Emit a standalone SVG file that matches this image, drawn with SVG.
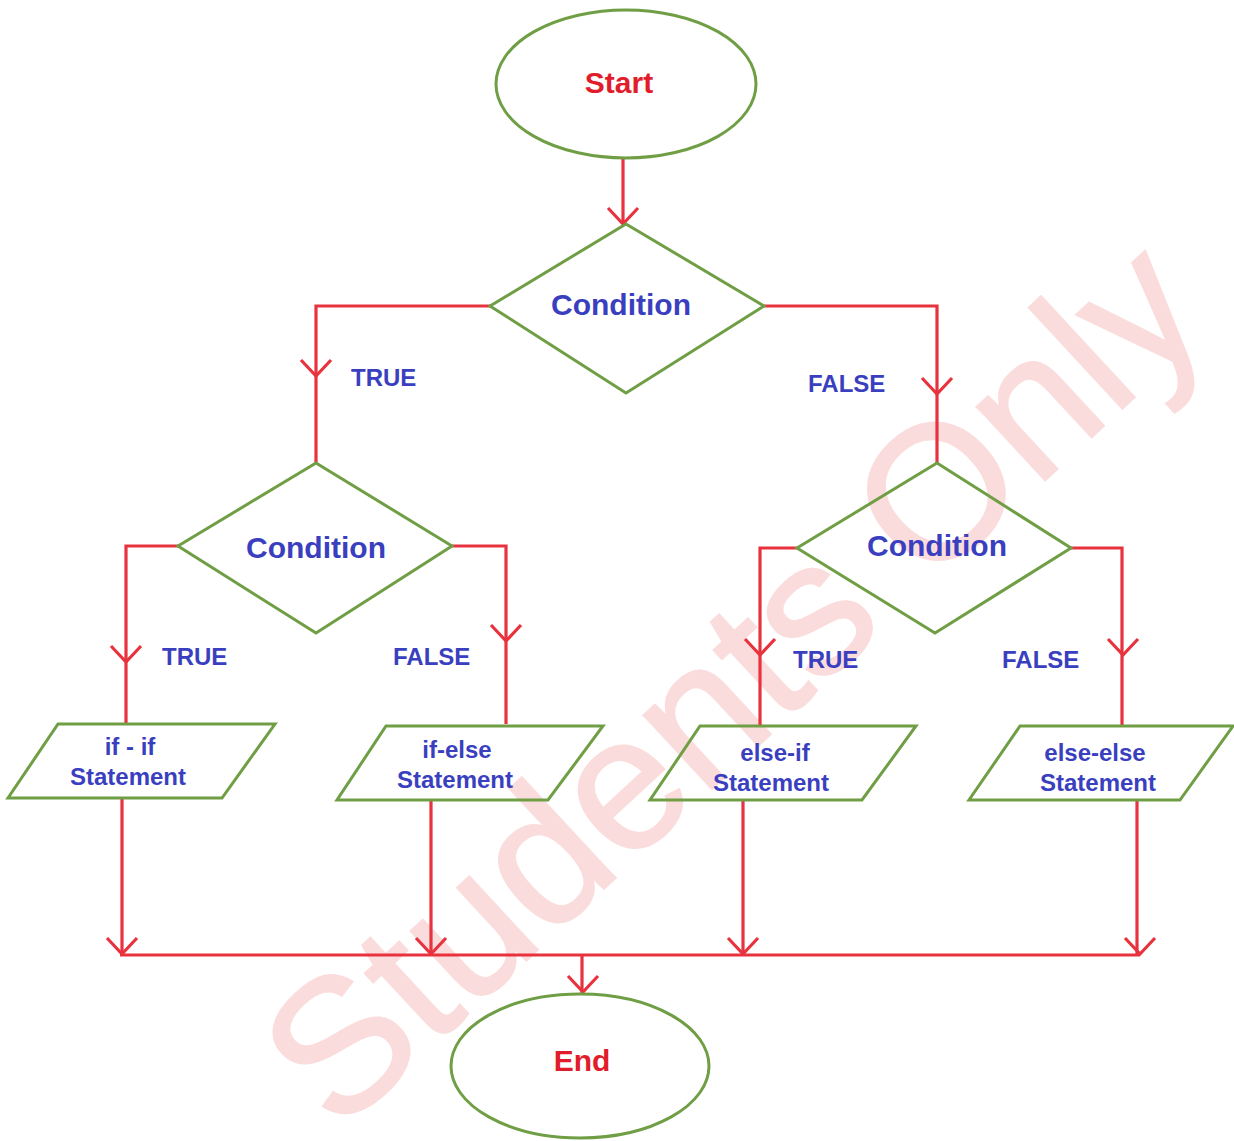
<svg xmlns="http://www.w3.org/2000/svg" xmlns:xlink="http://www.w3.org/1999/xlink" width="1234" height="1141" viewBox="0 0 1234 1141">
<style>
.shape{fill:none;stroke:#6f9e45;stroke-width:3}
.ln{fill:none;stroke:#e8323e;stroke-width:3.2;stroke-linejoin:miter}
.red{font-family:"Liberation Sans",Arial,sans-serif;font-weight:bold;font-size:30px;fill:#e21d2b;text-anchor:middle}
.cond{font-family:"Liberation Sans",Arial,sans-serif;font-weight:bold;font-size:30px;fill:#3a3fc0;text-anchor:middle}
.lbl{font-family:"Liberation Sans",Arial,sans-serif;font-weight:bold;font-size:24px;fill:#3a3fc0}
.st{font-family:"Liberation Sans",Arial,sans-serif;font-weight:bold;font-size:24px;fill:#3a3fc0;text-anchor:middle}
.wm{font-family:"Liberation Sans",Arial,sans-serif;font-size:190px;fill:#fbdcdc;stroke:#fbdcdc;stroke-width:2}
</style>
<defs>
<path id="v" d="M-15,-16 L0,0 L15,-16" class="ln"/>
</defs>
<rect width="1234" height="1141" fill="#ffffff"/>
<text class="wm" transform="translate(338,1135) rotate(-42.8)">Students Only</text>

<g id="connectors">
<path class="ln" d="M623,158 V224"/>
<use xlink:href="#v" x="623" y="224"/>
<path class="ln" d="M490,306 H316 V463"/>
<use xlink:href="#v" x="316" y="376"/>
<path class="ln" d="M764,306 H937 V463"/>
<use xlink:href="#v" x="937" y="394"/>
<path class="ln" d="M178,546 H126 V724"/>
<use xlink:href="#v" x="126" y="662"/>
<path class="ln" d="M452,546 H506 V724"/>
<use xlink:href="#v" x="506" y="641"/>
<path class="ln" d="M797,548 H760 V727"/>
<use xlink:href="#v" x="760" y="655"/>
<path class="ln" d="M1071,548 H1122 V727"/>
<use xlink:href="#v" x="1123" y="655"/>
<path class="ln" d="M122,798 V955"/>
<use xlink:href="#v" x="122" y="954"/>
<path class="ln" d="M431,800 V955"/>
<use xlink:href="#v" x="431" y="954"/>
<path class="ln" d="M743,800 V955"/>
<use xlink:href="#v" x="743" y="954"/>
<path class="ln" d="M1137,800 V955"/>
<use xlink:href="#v" x="1140" y="954"/>
<path class="ln" d="M120,955 H1140"/>
<path class="ln" d="M582,955 V993"/>
<use xlink:href="#v" x="583" y="992"/>
</g>

<g id="start">
<ellipse class="shape" cx="626" cy="84" rx="130" ry="74"/>
<text class="red" x="619" y="93">Start</text>
</g>
<g id="cond1">
<polygon class="shape" points="626,224 764,306 626,393 490,306"/>
<text class="cond" x="621" y="315">Condition</text>
</g>
<g id="cond2">
<polygon class="shape" points="316,463 452,546 316,633 178,546"/>
<text class="cond" x="316" y="558">Condition</text>
</g>
<g id="cond3">
<polygon class="shape" points="937,463 1071,548 935,633 797,548"/>
<text class="cond" x="937" y="556">Condition</text>
</g>

<g id="labels">
<text class="lbl" x="351" y="386">TRUE</text>
<text class="lbl" x="808" y="392">FALSE</text>
<text class="lbl" x="162" y="665">TRUE</text>
<text class="lbl" x="393" y="665">FALSE</text>
<text class="lbl" x="793" y="668">TRUE</text>
<text class="lbl" x="1002" y="668">FALSE</text>
</g>

<g id="ifif">
<polygon class="shape" points="58,724 275,724 222,798 8,798"/>
<text class="st" x="130" y="755">if - if</text>
<text class="st" x="128" y="785">Statement</text>
</g>
<g id="ifelse">
<polygon class="shape" points="386,726 603,726 548,800 337,800"/>
<text class="st" x="457" y="758">if-else</text>
<text class="st" x="455" y="788">Statement</text>
</g>
<g id="elseif">
<polygon class="shape" points="700,726 916,726 862,800 650,800"/>
<text class="st" x="775" y="761">else-if</text>
<text class="st" x="771" y="791">Statement</text>
</g>
<g id="elseelse">
<polygon class="shape" points="1020,726 1233,726 1180,800 969,800"/>
<text class="st" x="1095" y="761">else-else</text>
<text class="st" x="1098" y="791">Statement</text>
</g>

<g id="end">
<ellipse class="shape" cx="580" cy="1066" rx="129" ry="72"/>
<text class="red" x="582" y="1071">End</text>
</g>
</svg>
